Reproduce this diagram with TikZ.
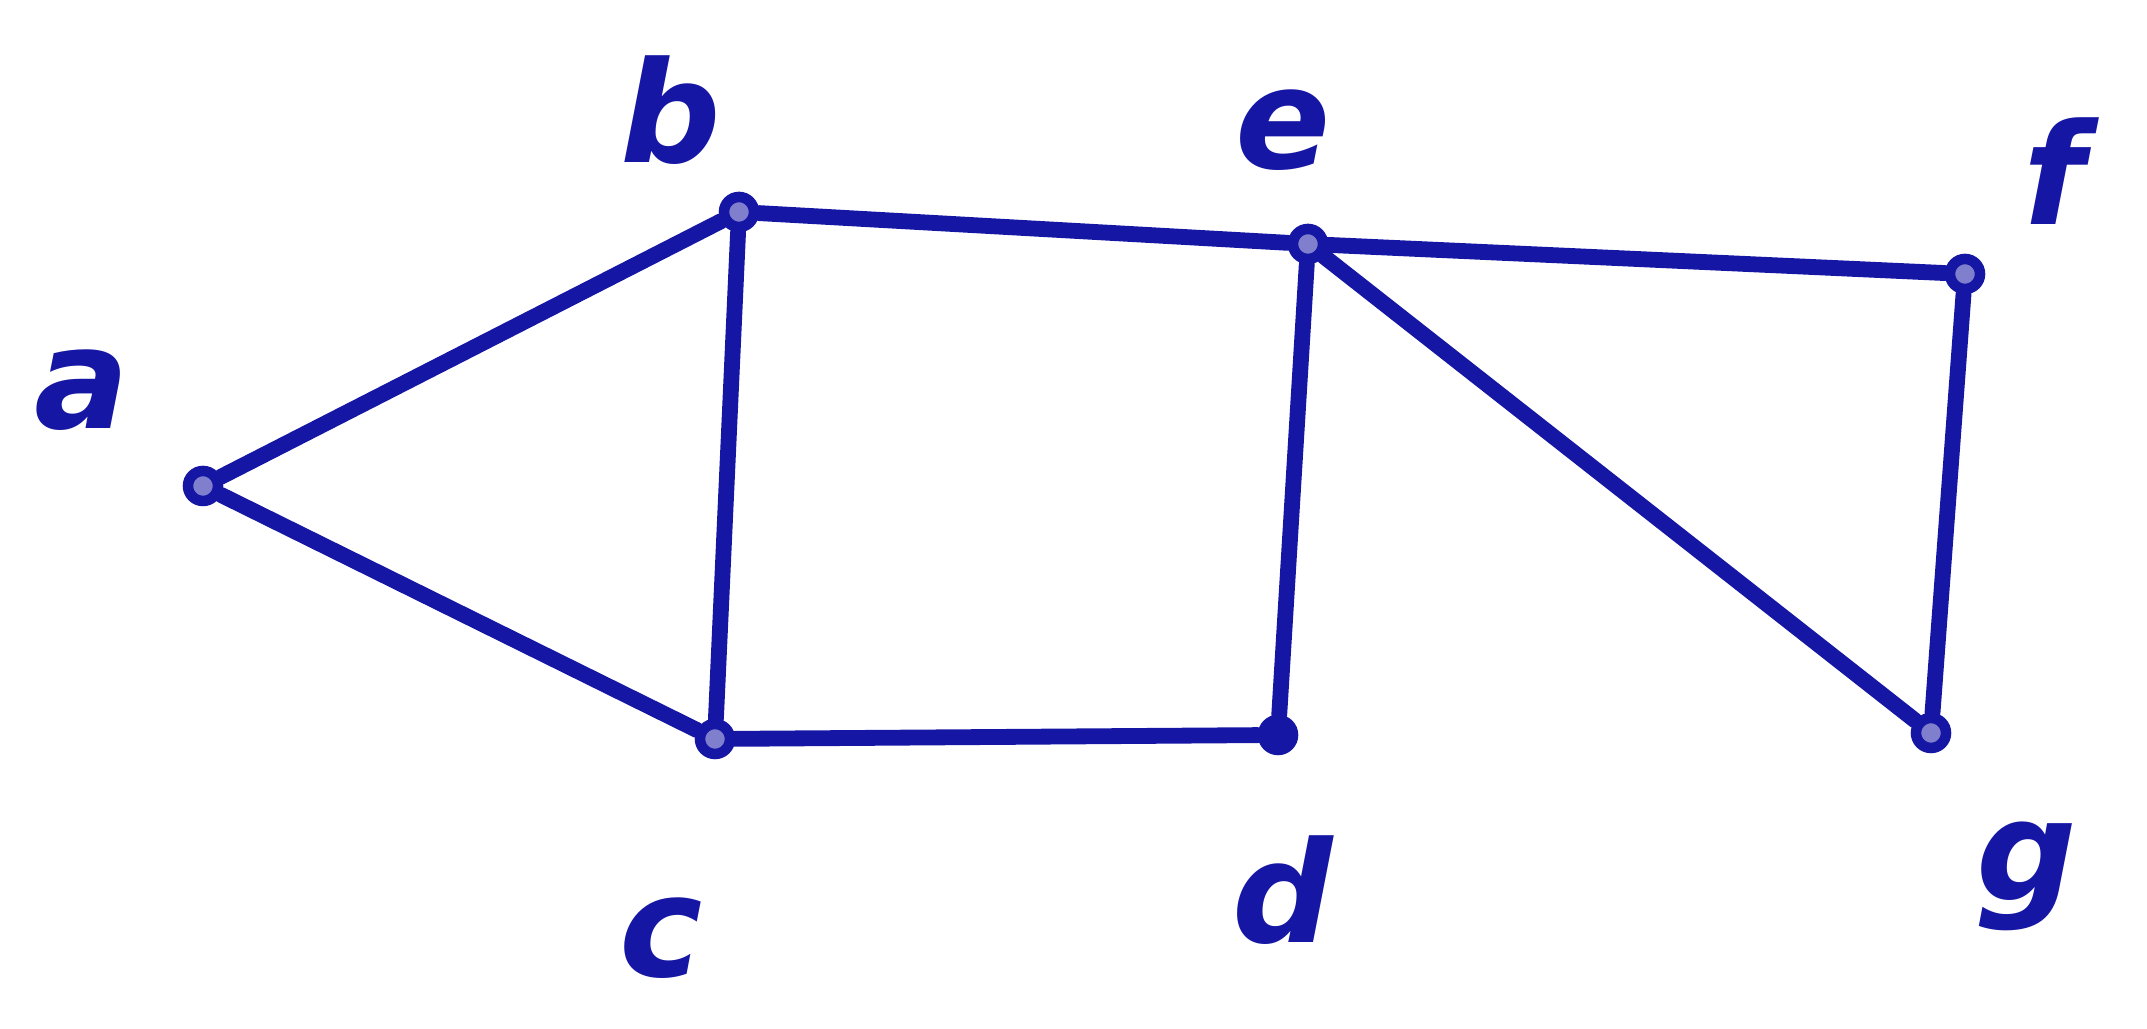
\documentclass[tikz,border=0pt]{standalone}
\usepackage{fontspec}
\setmainfont{DejaVu Sans}
\definecolor{ink}{RGB}{22,22,165}
\begin{document}
\begin{tikzpicture}[
  vert/.style={circle,draw=ink,fill=ink!55,line width=3pt,inner sep=0pt,minimum size=0.3cm},
  lab/.style={text=ink,font=\fontsize{40}{48}\selectfont\bfseries\itshape},
  edge/.style={draw=ink,line width=4.5pt,line cap=round}
]
\useasboundingbox (0,0) rectangle (21.47,10.29);
\node[vert] (a) at (2.03,5.43) {};
\node[vert] (b) at (7.39,8.17) {};
\node[vert] (c) at (7.15,2.90) {};
\node[vert,fill=ink] (d) at (12.78,2.94) {};
\node[vert] (e) at (13.08,7.85) {};
\node[vert] (f) at (19.65,7.55) {};
\node[vert] (g) at (19.31,2.96) {};
\node[lab] (la) at (0.82,6.39) {a};
\node[lab] (lb) at (6.71,9.19) {b};
\node[lab] (le) at (12.83,8.99) {e};
\node[lab] (lf) at (20.54,8.58) {f};
\node[lab] (lc) at (6.61,0.91) {c};
\node[lab] (ld) at (12.83,1.39) {d};
\node[lab] (lg) at (20.27,1.53) {g};
\draw[edge] (a) -- (b);
\draw[edge] (a) -- (c);
\draw[edge] (b) -- (c);
\draw[edge] (b) -- (e);
\draw[edge] (c) -- (d);
\draw[edge] (d) -- (e);
\draw[edge] (e) -- (f);
\draw[edge] (e) -- (g);
\draw[edge] (f) -- (g);
\end{tikzpicture}
\end{document}
